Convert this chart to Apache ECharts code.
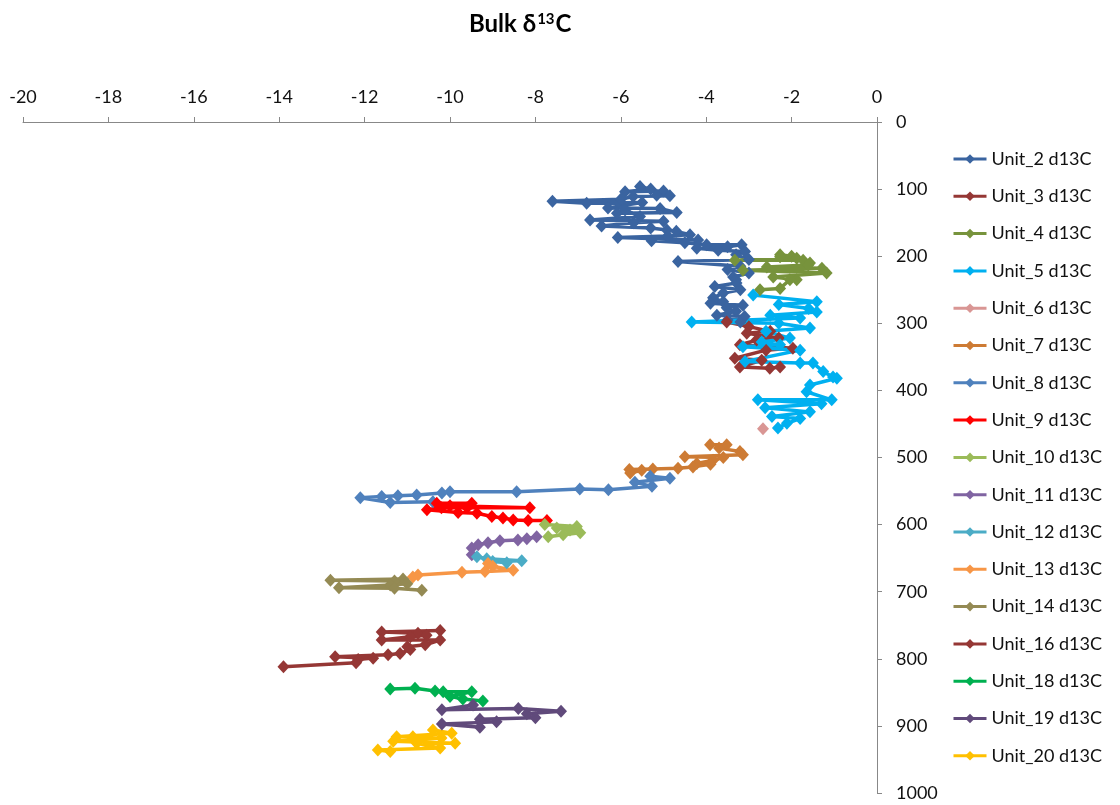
<!DOCTYPE html>
<html>
<head>
<meta charset="utf-8">
<script src="https://cdn.jsdelivr.net/npm/echarts@6/dist/echarts.min.js"></script>
<style>html,body{margin:0;padding:0;background:#fff}#c{width:1120px;height:805px}</style>
</head>
<body>
<div id="c"></div>
<script>
// ---- data: [d13C, depth] ----
const unit2 = [[-5.55,96],[-5.3,100],[-5.9,104],[-5.0,103],[-5.16,109],[-4.85,110],[-5.71,111],[-6.0,115],[-7.6,118],[-6.8,121],[-5.5,120],[-6.3,128],[-5.08,129],[-4.69,135],[-6.09,136],[-5.9,131],[-5.55,141],[-6.72,146],[-5.0,148],[-5.7,150],[-6.45,155],[-5.3,158],[-4.92,161],[-4.7,163],[-4.38,168],[-4.9,170],[-6.07,172],[-4.19,176],[-5.28,177],[-4.5,180],[-3.99,183],[-3.17,183],[-3.5,186],[-4.22,188],[-3.72,191],[-3.09,193],[-3.3,198],[-3.0,205],[-4.66,208],[-3.2,215],[-3.5,220],[-3.0,225],[-3.37,231],[-3.3,235],[-3.29,240],[-3.8,245],[-3.2,250],[-3.6,255],[-3.84,262],[-3.6,268],[-3.9,270],[-3.14,273],[-3.52,277],[-3.3,282],[-3.75,288],[-3.1,290],[-3.5,295],[-3.2,298]];
const unit3 = [[-3.52,298],[-3.0,305],[-2.5,312],[-3.05,315],[-2.3,322],[-2.82,325],[-3.21,332],[-1.97,337],[-2.6,340],[-3.33,352],[-2.7,355],[-3.21,365],[-2.51,367],[-2.27,365]];
const unit4 = [[-2.27,198],[-2.0,200],[-2.27,201],[-1.88,203],[-3.33,206],[-1.73,206],[-1.57,210],[-1.61,213],[-2.58,216],[-1.29,218],[-3.14,221],[-1.18,225],[-2.43,231],[-1.88,235],[-2.04,235],[-2.27,248],[-2.74,250]];
const unit5 = [[-2.9,258],[-1.41,268],[-2.3,272],[-1.6,278],[-1.41,283],[-2.5,288],[-1.8,292],[-4.34,298],[-2.3,300],[-1.57,307],[-2.6,312],[-2.04,322],[-2.7,328],[-2.27,332],[-3.14,335],[-1.8,340],[-3.09,357],[-1.8,359],[-1.5,359],[-1.26,372],[-1.03,380],[-0.94,382],[-1.57,392],[-1.65,402],[-1.06,414],[-2.79,414],[-1.3,420],[-2.62,426],[-1.57,432],[-2.46,439],[-1.8,442],[-2.11,449],[-2.32,456]];
const unit6 = [[-2.67,457]];
const unit7 = [[-3.91,481],[-3.52,481],[-3.7,486],[-3.21,491],[-3.14,496],[-4.5,499],[-3.6,500],[-3.84,504],[-4.22,509],[-3.9,510],[-4.31,514],[-4.66,516],[-5.25,517],[-5.8,518],[-5.51,519],[-5.78,523]];
const unit8 = [[-5.31,528],[-4.85,531],[-5.67,537],[-5.27,543],[-6.29,548],[-6.96,547],[-8.44,551],[-10.0,551],[-10.19,553],[-10.78,556],[-11.22,557],[-11.6,558],[-12.1,560],[-11.4,567],[-10.4,566]];
const unit9 = [[-10.31,568],[-9.49,568],[-10.0,572],[-8.13,575],[-9.6,575],[-10.2,575],[-10.54,578],[-9.81,582],[-9.37,583],[-9.02,588],[-8.76,590],[-8.52,593],[-8.17,594],[-7.73,594]];
const unit10 = [[-7.78,600],[-7.03,603],[-7.5,605],[-7.19,608],[-6.95,612],[-7.35,615],[-7.7,618]];
const unit11 = [[-7.97,618],[-8.2,621],[-8.41,623],[-8.83,624],[-9.11,627],[-9.34,630],[-9.49,635],[-9.49,645]];
const unit12 = [[-9.37,648],[-9.14,651],[-8.32,654],[-9.0,655],[-8.67,657]];
const unit13 = [[-9.11,658],[-9.0,662],[-8.52,668],[-9.18,670],[-9.72,671],[-10.75,675],[-10.87,678]];
const unit14 = [[-11.1,681],[-12.8,683],[-11.3,684],[-11.0,688],[-11.4,690],[-12.6,694],[-11.3,695],[-10.66,698]];
const unit16 = [[-10.23,758],[-11.6,760],[-10.75,762],[-10.55,765],[-10.93,767],[-11.6,772],[-10.23,772],[-10.58,779],[-11.0,782],[-10.93,786],[-11.17,792],[-11.45,794],[-12.69,797],[-11.8,799],[-12.15,801],[-12.2,806],[-13.9,812]];
const unit18 = [[-11.4,845],[-10.82,844],[-10.35,848],[-10.16,849],[-9.49,849],[-10.0,856],[-9.7,860],[-9.23,863]];
const unit19 = [[-9.46,869],[-10.19,876],[-8.4,874],[-7.4,878],[-8.2,882],[-8.0,888],[-9.3,890],[-8.91,894],[-10.19,897],[-9.3,902]];
const unit20 = [[-10.4,906],[-9.96,911],[-11.25,916],[-10.87,916],[-10.2,918],[-11.33,923],[-9.88,926],[-10.78,926],[-10.23,933],[-11.69,936],[-11.4,938]];

const seriesNames = ['Unit_2 d13C','Unit_3 d13C','Unit_4 d13C','Unit_5 d13C','Unit_6 d13C','Unit_7 d13C','Unit_8 d13C','Unit_9 d13C','Unit_10 d13C','Unit_11 d13C','Unit_12 d13C','Unit_13 d13C','Unit_14 d13C','Unit_16 d13C','Unit_18 d13C','Unit_19 d13C','Unit_20 d13C'];
const seriesData = [unit2,unit3,unit4,unit5,unit6,unit7,unit8,unit9,unit10,unit11,unit12,unit13,unit14,unit16,unit18,unit19,unit20];
const seriesColors = ['#3A64A0','#953735','#77933C','#00B0F0','#D99694','#CD7B34','#4F81BD','#FF0000','#9BBB59','#8064A2','#4BACC6','#F79646','#948A54','#953735','#00B050','#604A7B','#FFC000'];
const xTicks = {min:-20, max:0, interval:2};
const yTicks = {min:0, max:1000, interval:100};

const FONT = 'Lato, "Open Sans", sans-serif';
const chart = echarts.init(document.getElementById('c'), null, {renderer:'canvas'});
chart.setOption({
  backgroundColor:'#fff',
  animation:false,
  textStyle:{fontFamily:FONT},
  title:{
    text:'{a|Bulk δ}{s|13}{a|C}',left:464,top:7,
    textStyle:{
      rich:{
        a:{fontFamily:FONT,fontSize:24,fontWeight:'bold',color:'#000'},
        s:{fontFamily:FONT,fontSize:15,fontWeight:'bold',color:'#000',padding:[0,1,10,1]}
      }
    }
  },
  grid:{left:23,right:243,top:122,bottom:12,containLabel:false},
  legend:{
    orient:'vertical',left:947,top:144,bottom:0,itemWidth:33,itemHeight:12,itemGap:17.3,
    textStyle:{fontFamily:FONT,fontSize:18,color:'#111',lineHeight:20},
    lineStyle:{width:3},
    data:seriesNames
  },
  xAxis:{
    type:'value',position:'top',min:xTicks.min,max:xTicks.max,interval:xTicks.interval,
    axisLine:{show:true,lineStyle:{color:'#888',width:1}},
    axisTick:{show:true,inside:false,length:5,lineStyle:{color:'#888'}},
    axisLabel:{margin:16,fontSize:18,color:'#111',fontFamily:FONT},
    splitLine:{show:false}
  },
  yAxis:{
    type:'value',position:'right',inverse:true,min:yTicks.min,max:yTicks.max,interval:yTicks.interval,
    axisLine:{show:true,lineStyle:{color:'#888',width:1}},
    axisTick:{show:true,inside:false,length:5,lineStyle:{color:'#888'}},
    axisLabel:{margin:19,fontSize:18,color:'#111',fontFamily:FONT,align:'left',formatter:v=>String(v)},
    splitLine:{show:false}
  },
  series: seriesNames.map((n,i)=>({
    name:n,type:'line',data:seriesData[i],
    symbol:'diamond',symbolSize:[12,13],
    lineStyle:{width:3.5,color:seriesColors[i]},
    itemStyle:{color:seriesColors[i]},
    emphasis:{disabled:true}
  }))
});
</script>
</body>
</html>
